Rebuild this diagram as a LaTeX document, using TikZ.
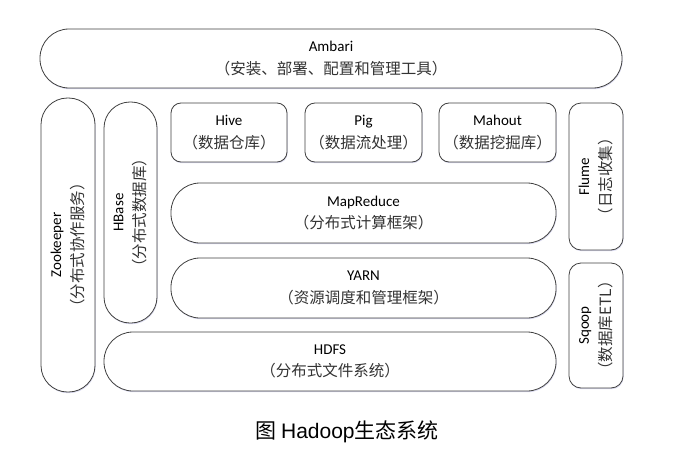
\documentclass[tikz,border=0pt]{standalone}
\usepackage{fontspec}
\setmainfont{Carlito}
\newfontfamily\cjk{Noto Sans CJK SC}
\newfontfamily\capfont{Liberation Sans}
\usetikzlibrary{shadows}
\tikzset{
  comp/.style={draw=black!75, line width=0.8pt, fill=white, inner sep=0pt, outer sep=0pt,
    align=center, font=\fontsize{15}{22.5}\selectfont,
    drop shadow={shadow xshift=0.6pt, shadow yshift=-1.2pt, fill=blue!40!gray!35, opacity=0.6}},
  pill/.style={comp, rounded corners=29pt},
  smallbox/.style={comp, rounded corners=10pt},
  sidebox/.style={comp, rounded corners=12pt, rotate=90},
}
\newcommand{\zh}[1]{{\cjk\fontsize{15.5}{22.5}\selectfont\color{black!80}#1}}
\begin{document}
\begin{tikzpicture}[x=1pt,y=-1pt]
\useasboundingbox (0,0) rectangle (700,468);
\node[pill, minimum width=582pt, minimum height=59pt] (ambari) at (331,58.5)
  {Ambari\\\zh{（安装、部署、配置和管理工具）}};
\node[comp, rounded corners=26.5pt, rotate=90, minimum width=294pt, minimum height=54pt] (zoo) at (68,245)
  {Zookeeper\\\zh{（分布式协作服务）}};
\node[comp, rounded corners=26pt, rotate=90, minimum width=221pt, minimum height=53pt] (hbase) at (130.5,212.5)
  {HBase\\\zh{（分布式数据库）}};
\node[smallbox, minimum width=116pt, minimum height=59pt] (hive) at (229,132.5)
  {Hive\\\zh{（数据仓库）}};
\node[smallbox, minimum width=117pt, minimum height=59pt] (pig) at (363.5,132.5)
  {Pig\\\zh{（数据流处理）}};
\node[smallbox, minimum width=117pt, minimum height=59pt] (mahout) at (497.5,132.5)
  {Mahout\\\zh{（数据挖掘库）}};
\node[pill, minimum width=385pt, minimum height=60pt] (mapreduce) at (363.5,213)
  {MapReduce\\\zh{（分布式计算框架）}};
\node[pill, minimum width=385pt, minimum height=60pt] (yarn) at (363.5,288)
  {YARN\\\zh{（资源调度和管理框架）}};
\node[pill, minimum width=452pt, minimum height=59pt] (hdfs) at (330,361.5)
  {HDFS\\\zh{（分布式文件系统）}};
\node[sidebox, minimum width=147pt, minimum height=54pt] (flume) at (596,176.5)
  {Flume\\\zh{（日志收集）}};
\node[sidebox, minimum width=125pt, minimum height=54pt] (sqoop) at (596,325.5)
  {Sqoop\\\zh{（数据库ETL）}};
\node[inner sep=0pt] (caption) at (347,432)
  {\fontsize{21}{24}\selectfont{\cjk 图} {\capfont Hadoop}{\cjk 生态系统}};
\end{tikzpicture}
\end{document}
